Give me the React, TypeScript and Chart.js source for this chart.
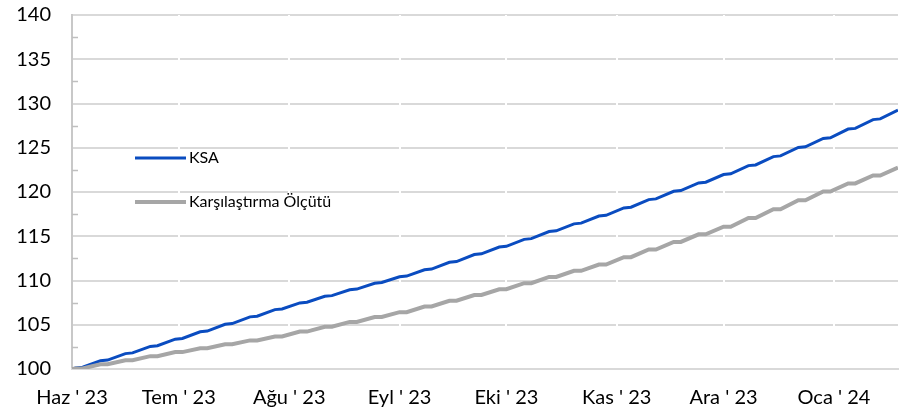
import React, { useEffect, useRef } from "react";
import { Chart, registerables } from "chart.js";

Chart.register(...registerables);

// ---- data ----
const startDate = "2023-06-01";

const dates = [
  "2023-06-01",
  "2023-06-02", "2023-06-04", "2023-06-09", "2023-06-11", "2023-06-16", "2023-06-18",
  "2023-06-23", "2023-06-25", "2023-06-30", "2023-07-02", "2023-07-07", "2023-07-09",
  "2023-07-14", "2023-07-16", "2023-07-21", "2023-07-23", "2023-07-28", "2023-07-30",
  "2023-08-04", "2023-08-06", "2023-08-11", "2023-08-13", "2023-08-18", "2023-08-20",
  "2023-08-25", "2023-08-27", "2023-09-01", "2023-09-03", "2023-09-08", "2023-09-10",
  "2023-09-15", "2023-09-17", "2023-09-22", "2023-09-24", "2023-09-29", "2023-10-01",
  "2023-10-06", "2023-10-08", "2023-10-13", "2023-10-15", "2023-10-20", "2023-10-22",
  "2023-10-27", "2023-10-29", "2023-11-03", "2023-11-05", "2023-11-10", "2023-11-12",
  "2023-11-17", "2023-11-19", "2023-11-24", "2023-11-26", "2023-12-01", "2023-12-03",
  "2023-12-08", "2023-12-10", "2023-12-15", "2023-12-17", "2023-12-22", "2023-12-24",
  "2023-12-29", "2023-12-31", "2024-01-05", "2024-01-07", "2024-01-12", "2024-01-14",
  "2024-01-19",
];

const ksa = [
  100,
  100.12, 100.2, 100.93, 101.01, 101.74, 101.82,
  102.55, 102.63, 103.37, 103.45, 104.21, 104.29,
  105.05, 105.13, 105.89, 105.97, 106.71, 106.79,
  107.47, 107.55, 108.21, 108.29, 108.95, 109.03,
  109.69, 109.77, 110.42, 110.5, 111.21, 111.29,
  112.06, 112.14, 112.93, 113.01, 113.78, 113.86,
  114.65, 114.73, 115.53, 115.61, 116.4, 116.48,
  117.28, 117.36, 118.2, 118.28, 119.14, 119.22,
  120.08, 120.16, 121.03, 121.11, 121.97, 122.05,
  122.98, 123.06, 124.0, 124.08, 125.03, 125.11,
  126.05, 126.13, 127.11, 127.19, 128.18, 128.26,
  129.25,
];

const benchmark = [
  100,
  100.07, 100.07, 100.53, 100.53, 100.99, 100.99,
  101.45, 101.45, 101.91, 101.91, 102.35, 102.35,
  102.79, 102.79, 103.23, 103.23, 103.68, 103.68,
  104.23, 104.23, 104.78, 104.78, 105.32, 105.32,
  105.87, 105.87, 106.42, 106.42, 107.06, 107.06,
  107.71, 107.71, 108.36, 108.36, 109.01, 109.01,
  109.7, 109.7, 110.4, 110.4, 111.1, 111.1,
  111.8, 111.8, 112.64, 112.64, 113.5, 113.5,
  114.36, 114.36, 115.22, 115.22, 116.08, 116.08,
  117.06, 117.06, 118.06, 118.06, 119.06, 119.06,
  120.06, 120.06, 120.97, 120.97, 121.86, 121.86,
  122.75,
];

const seriesNames = ["KSA", "Karşılaştırma Ölçütü"];

const monthTickDates = [
  "2023-06-01", "2023-07-01", "2023-08-01", "2023-09-01",
  "2023-10-01", "2023-11-01", "2023-12-01", "2024-01-01",
];
const monthTickLabels = [
  "Haz ' 23", "Tem ' 23", "Ağu ' 23", "Eyl ' 23",
  "Eki ' 23", "Kas ' 23", "Ara ' 23", "Oca ' 24",
];

const yMin = 100;
const yMax = 140;
const yStep = 5;
const yMinorStep = 2.5;

// ---- styling ----
const BLUE = "#0a4cc0";
const GREY = "#a6a6a6";
const FONT = "Lato, 'Noto Sans', sans-serif";

const dayOf = (s: string) =>
  (Date.parse(s + "T00:00:00Z") - Date.parse(startDate + "T00:00:00Z")) / 86400000;

const axisDecorPlugin = {
  id: "axisDecor",
  beforeDatasetsDraw(chart: any) {
    const y = chart.scales.y;
    const x = chart.scales.x;
    const ctx = chart.ctx;
    const { left, top, bottom } = chart.chartArea;
    ctx.save();
    // white breaks in the horizontal gridlines at month ticks
    ctx.strokeStyle = "#ffffff";
    ctx.lineWidth = 2;
    monthTickDates.slice(1).forEach((d) => {
      const px = Math.round(x.getPixelForValue(dayOf(d)));
      ctx.beginPath();
      ctx.moveTo(px, top);
      ctx.lineTo(px, bottom - 2);
      ctx.stroke();
    });
    // minor ticks
    ctx.strokeStyle = "#bfbfbf";
    ctx.lineWidth = 1.5;
    for (let v = yMin + yMinorStep; v < yMax; v += yStep) {
      const py = Math.round(y.getPixelForValue(v)) + 0.5;
      ctx.beginPath();
      ctx.moveTo(left, py);
      ctx.lineTo(left + 6, py);
      ctx.stroke();
    }
    ctx.restore();
  },
};

const legendPlugin = {
  id: "insideLegend",
  afterDraw(chart: any) {
    const ctx = chart.ctx;
    const x0 = chart.chartArea.left + 63;
    const rows = [
      { y: 158, color: BLUE, width: 3, label: seriesNames[0] },
      { y: 202, color: GREY, width: 4, label: seriesNames[1] },
    ];
    ctx.save();
    rows.forEach((r) => {
      ctx.strokeStyle = r.color;
      ctx.lineWidth = r.width;
      ctx.beginPath();
      ctx.moveTo(x0, r.y);
      ctx.lineTo(x0 + 51, r.y);
      ctx.stroke();
      ctx.fillStyle = "#000";
      ctx.font = `16px ${FONT}`;
      ctx.textBaseline = "middle";
      ctx.textAlign = "left";
      ctx.fillText(r.label, x0 + 54, r.y);
    });
    ctx.restore();
  },
};

export default function App() {
  const canvasRef = useRef<HTMLCanvasElement | null>(null);

  useEffect(() => {
    if (!canvasRef.current) return;
    const xs = dates.map(dayOf);
    const monthDays = monthTickDates.map(dayOf);
    const chart = new Chart(canvasRef.current, {
      type: "line",
      data: {
        datasets: [
          {
            label: seriesNames[0],
            data: ksa.map((v, i) => ({ x: xs[i], y: v })),
            borderColor: BLUE,
            borderWidth: 3,
            pointRadius: 0,
            order: 1,
          },
          {
            label: seriesNames[1],
            data: benchmark.map((v, i) => ({ x: xs[i], y: v })),
            borderColor: GREY,
            borderWidth: 4,
            pointRadius: 0,
            order: 0,
          },
        ],
      },
      options: {
        responsive: false,
        animation: false,
        layout: { padding: { top: 15, right: 9, left: 0, bottom: 0 } },
        plugins: {
          legend: { display: false },
          tooltip: { enabled: false },
        },
        elements: { line: { tension: 0 } },
        scales: {
          y: {
            min: yMin,
            max: yMax,
            ticks: {
              stepSize: yStep,
              padding: 21,
              color: "#000",
              font: { family: FONT, size: 20 },
            },
            grid: { color: "#d9d9d9", lineWidth: 2, drawTicks: false },
            border: { color: "#c8c8c8", width: 2 },
            afterFit: (s: any) => {
              s.width = 72;
              s.paddingTop = 0;
              s.paddingBottom = 0;
            },
          },
          x: {
            type: "linear",
            min: 0,
            max: xs[xs.length - 1],
            afterBuildTicks: (s: any) => {
              s.ticks = monthDays.map((v) => ({ value: v }));
            },
            ticks: {
              autoSkip: false,
              maxRotation: 0,
              padding: 17,
              color: "#000",
              font: { family: FONT, size: 20 },
              callback: (_v: any, i: number) => monthTickLabels[i],
            },
            grid: { display: false, drawTicks: false },
            border: { color: "#d9d9d9", width: 2 },
            afterFit: (s: any) => {
              s.height = 45;
            },
          },
        },
      } as any,
      plugins: [axisDecorPlugin, legendPlugin],
    });
    return () => chart.destroy();
  }, []);

  return (
    <div style={{ position: "absolute", left: 0, top: 0, width: 907, height: 414, background: "#fff" }}>
      <canvas ref={canvasRef} width={907} height={414} />
    </div>
  );
}
